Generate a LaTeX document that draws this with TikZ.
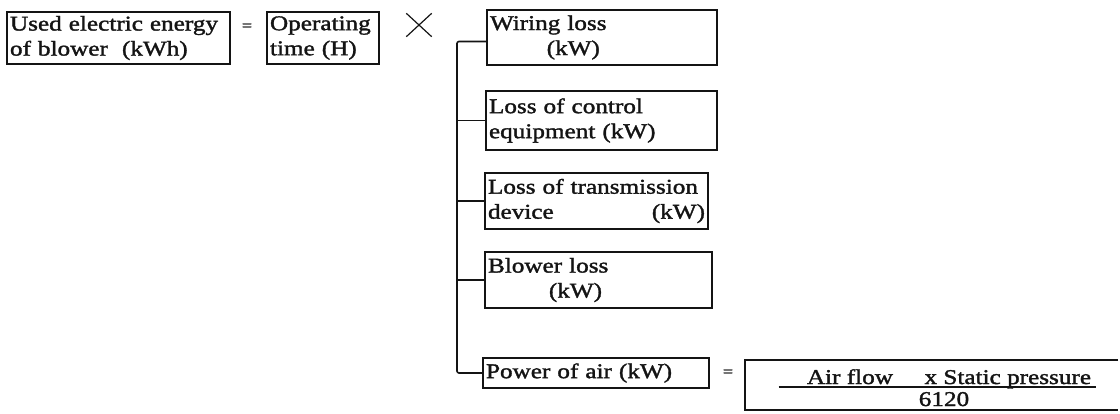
\documentclass[tikz,border=0pt]{standalone}
\usepackage{fontspec}
\setmainfont{Liberation Serif}[FakeStretch=1.2,FakeBold=1.6]
\usepackage{tikz}
\usetikzlibrary{positioning,calc}
\definecolor{ink}{HTML}{141414}
\tikzset{
  termbox/.style={draw=ink,line width=1.6pt,align=left,inner sep=3pt,
                  font=\fontsize{21}{25}\selectfont,text=ink},
  termtext/.style={inner sep=0pt,font=\fontsize{21}{25}\selectfont,text=ink},
  eqsign/.style={inner sep=0pt,font=\fontsize{15}{15}\selectfont,text=ink},
  branch/.style={draw=ink,line width=1.6pt},
  crossmark/.style={inner sep=0pt,minimum width=25pt,minimum height=23pt}
}

\begin{document}
\begin{tikzpicture}[x=1pt,y=-1pt]
  \useasboundingbox (0,0) rectangle (1120,413);
  % top row: energy = time x losses
  \node[termbox,text width=217pt,minimum height=52pt] (useden) at (118.5,38)
    {Used electric energy\\of blower\ \ (kWh)};
  \node[eqsign] (eqtop) at (247,27) {=};
  \node[termbox,text width=106pt,minimum height=52pt] (optime) at (323,38)
    {Operating\\time (H)};
  \node[crossmark] (times) at (419,25) {};
  \draw[ink,line width=1.2pt] (times.north west) -- (times.south east)
    (times.north east) -- (times.south west);
  % loss column
  \node[termbox,text width=224pt,minimum height=55pt] (wiring) at (602,37.5)
    {Wiring loss\\\hspace*{2.7em}(kW)};
  \node[termbox,text width=225pt,minimum height=59pt] (control) at (601.5,120.5)
    {Loss of control\\equipment (kW)};
  \node[termbox,text width=217pt,minimum height=56pt] (transmit) at (596.5,201)
    {Loss of transmission\\device\hfill(kW)};
  \node[termbox,text width=221pt,minimum height=56pt] (blowloss) at (598.5,280)
    {Blower loss\\\hspace*{2.9em}(kW)};
  \node[termbox,text width=220pt,minimum height=30pt] (airpow) at (596,373)
    {Power of air (kW)};
  \coordinate (trunk) at (457,0);
  \draw[branch,rounded corners=2pt] ([yshift=-4pt]wiring.west) -- ([yshift=-4pt]wiring.west -| trunk) |- (airpow.west);
  \foreach \lossname in {control,transmit,blowloss}
    \draw[branch] (\lossname.west) -- (\lossname.west -| trunk);
  % power of air as a fraction
  \node[eqsign] (eqair) at (728,373) {=};
  \node[minimum width=373pt,minimum height=50pt,inner sep=0pt] (airbox) at (931.5,385) {};
  \draw[branch] (airbox.north east) -- (airbox.north west) -- (airbox.south west) -- (airbox.south east);
  \node[termtext,anchor=base] (airnum) at (949,384) {Air flow\hspace{1.5em}x Static pressure};
  \node[termtext,anchor=base] (airden) at (944,406) {6120};
  \draw[branch] ([shift={(-28,3)}]airnum.base west) -- ([shift={(5,3)}]airnum.base east);
\end{tikzpicture}
\end{document}
